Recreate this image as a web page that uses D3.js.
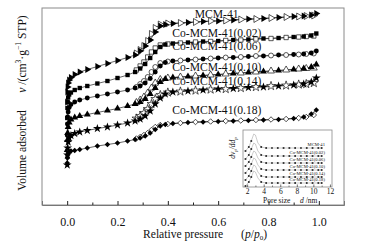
<!DOCTYPE html>
<html><head><meta charset="utf-8">
<script src="https://cdn.jsdelivr.net/npm/d3@7"></script>
<style>
body{margin:0;background:#fff}
svg{display:block}
text{font-family:"Liberation Serif","Times New Roman",serif;fill:#111}
</style>
</head><body>
<svg id="c" width="369" height="241"></svg>
<script>
// ---- data (volume adsorbed, arbitrary offset units) ----
const seriesNames = ["MCM-41","Co-MCM-41(0.02)","Co-MCM-41(0.06)","Co-MCM-41(0.10)","Co-MCM-41(0.14)","Co-MCM-41(0.18)"];
const pAds = [0.0003,0.001,0.002,0.004,0.008,0.015,0.03,0.05,0.08,0.12,0.16,0.2,0.24,0.27,0.29,0.31,0.33,0.35,0.37,0.39,0.42,0.48,0.54,0.6,0.66,0.72,0.78,0.84,0.9,0.94,0.97,0.99];
const pDes = [0.98,0.95,0.92,0.87,0.81,0.75,0.69,0.63,0.57,0.51,0.45,0.40,0.37,0.35,0.335,0.32,0.305,0.29,0.275];

const adsMCM41 = [103,113,118,122,125,127.5,130.5,133,135.5,138.5,141.5,144.5,147.5,150,154,159,165,173,179,180.5,181.5,182.5,183.5,184,185,186,186.5,187.5,188.5,189,190,191.5];
const desMCM41 = [189.5,189,188.5,188,187,186,185.5,184.5,184,183,182,181.5,180.5,177,171,164,159,155,151.5];
const adsCo002 = [87,97,103,107.5,110.5,112.5,115,117,119,121.5,124,127,130,133,136.5,141,147,153,158,160.5,161.5,162.5,163.5,164,165,165.5,166.5,167,168,168.5,169.5,171.5];
const desCo002 = [169,168.5,168,167.5,166.5,166,165,164.5,163.5,163,162,161,160,157,153,148,143,139,135];
const adsCo006 = [70,81,88,93,97.5,100.5,103,105,107,109,111,113,115,117,119,122,126.5,133,139,142.5,144,145,146,147,147.5,148.5,149,150,150.5,151,152,154];
const desCo006 = [151.5,151,150.5,150,149.5,149,148,147.5,146.5,145.5,144.5,143.5,142,138,133,128,124,121,118];
const adsCo010 = [55,65,72,78,82.5,85.5,87.5,89,90.5,92.5,94.5,96.5,99,101,103,106,111,117,123,126,127.5,128.5,129.5,130.5,131.5,132.5,133.5,134.5,135.5,136.5,138,140.5];
const desCo010 = [137,136.5,136,135,134,133,132,131,130,129,128,127,125.5,122,117,112,108,105,102.5];
const adsCo014 = [40,50,57,63,67,69.5,71.5,73,74.5,76.5,78,80,82,84,86,89,94,101,107,111,113,114,115,116,116.5,117.5,118,119,120,121,123,127];
const desCo014 = [122,121,120.5,119.5,119,118,117,116,115.5,114.5,113.5,112.5,110,106,101,96,92,89,86.5];
const adsCo018 = [42,47,50,52,53,54,54.5,55.5,57,59,60.5,62,64,65.5,67,69,72,75.5,79,80.5,81.5,82.5,83,83.5,84,84.5,85,85.5,86.5,88,91,95];
const desCo018 = [90,88,87,86,85.5,85,84.5,84,83.5,83,82,81,80,78,75,72,70,68,66.5];

const xTicks = [0.0,0.2,0.4,0.6,0.8,1.0];
const xMinorTicks = [0.1,0.3,0.5,0.7,0.9];

// inset: pore size distribution
const dInset = [1.8,2.2,2.5,2.8,3.0,3.3,3.7,4.3,5.0,5.7,6.4,7.1,7.8,8.5,9.2,9.9,10.6,11.0];
const psdMCM41 = [36,40,46,53,52,44,40,39,39,39,39,39,39,39,39,39,39,39];
const psdCo002 = [28,32,38,44,43,36,32,31,31,31,31,31,31,31,31,31,31,31];
const psdCo006 = [21,25,30,36,35,29,25,24,24,24,24,24,24,24,24,24,24,24];
const psdCo010 = [14,18,23,29,28,22,18,17,17,17,17,17,17,17,17,17,17,17];
const psdCo014 = [7,11,16,22,21,15,11,10,10,10,10,10,10,10,10,10,10,10];
const psdCo018 = [1,5,10,16,15,9,5,4,4,4,4,4,4,4,4,4,4,4];
const insetTicks = [2,4,6,8,10,12];
const insetMinor = [3,5,7,9,11];

// ---- build ----
const ads = [adsMCM41,adsCo002,adsCo006,adsCo010,adsCo014,adsCo018];
const des = [desMCM41,desCo002,desCo006,desCo010,desCo014,desCo018];
const psd = [psdMCM41,psdCo002,psdCo006,psdCo010,psdCo014,psdCo018];

const svg = d3.select("#c");
const L=42,R=344,T=8,B=205;
const FS = 11.6;
const x = d3.scaleLinear().domain([-0.1,1.1]).range([L,R]);
const y = d3.scaleLinear().domain([0,197]).range([B,T]);

// frame
svg.append("rect").attr("x",L).attr("y",T).attr("width",R-L).attr("height",B-T)
  .attr("fill","none").attr("stroke","#8a8a8a").attr("stroke-width",1);

// bottom axis
const ax = svg.append("g").attr("transform",`translate(0,${B})`)
  .call(d3.axisBottom(x).tickValues(xTicks).tickSize(-4).tickPadding(12.5).tickFormat(d3.format(".1f")));
ax.select(".domain").attr("stroke","#777");
ax.selectAll(".tick line").attr("stroke","#222");
ax.selectAll("text").attr("font-size",12).attr("fill","#111");
const axm = svg.append("g").attr("transform",`translate(0,${B})`)
  .call(d3.axisBottom(x).tickValues(xMinorTicks).tickSize(-2.5).tickFormat(""));
axm.select(".domain").remove();
axm.selectAll(".tick line").attr("stroke","#222");

// symbols
const symTypes = [d3.symbolTriangle,d3.symbolSquare,d3.symbolCircle,d3.symbolTriangle,d3.symbolStar,d3.symbolSquare];
const symSizes = [21,19,19,21,24,15];
const symRot = [90,0,0,0,0,45];

const line = d3.line().x(d=>x(d[0])).y(d=>y(d[1]));

ads.forEach((vals,i)=>{
  const a = pAds.map((p,k)=>[p,vals[k]]);
  const dd = pDes.map((p,k)=>[p,des[i][k]]);
  const g = svg.append("g");
  g.append("path").attr("d",line(a)).attr("fill","none").attr("stroke","#222").attr("stroke-width",0.7);
  g.append("path").attr("d",line(dd)).attr("fill","none").attr("stroke","#222").attr("stroke-width",0.7);
  const sym = d3.symbol().type(symTypes[i]).size(symSizes[i]);
  g.selectAll(".o").data(dd).join("path").attr("class","o")
    .attr("transform",d=>`translate(${x(d[0])},${y(d[1])}) rotate(${symRot[i]})`)
    .attr("d",sym()).attr("fill","#fff").attr("stroke","#111").attr("stroke-width",0.7);
  g.selectAll(".f").data(a).join("path").attr("class","f")
    .attr("transform",d=>`translate(${x(d[0])},${y(d[1])}) rotate(${symRot[i]})`)
    .attr("d",sym()).attr("fill","#000");
});

// series labels
const lab = svg.append("g").attr("font-size",FS);
lab.append("text").attr("x",x(0.507)).attr("y",y(187)).text(seriesNames[0]);
const labBase = [168,155,134,120,91];
labBase.forEach((v,k)=>{
  lab.append("text").attr("x",x(0.772)).attr("y",y(v)).attr("text-anchor","end").text(seriesNames[k+1]);
});

// axis titles
const xt = svg.append("text").attr("x",143).attr("y",237.5).attr("font-size",FS);
xt.append("tspan").text("Relative pressure");
xt.append("tspan").attr("x",241).text("(");
xt.append("tspan").attr("font-style","italic").text("p");
xt.append("tspan").text("/");
xt.append("tspan").attr("font-style","italic").text("p");
xt.append("tspan").attr("font-size",7).attr("dy",2).text("0");
xt.append("tspan").attr("dy",-2).text(")");

const yt = svg.append("text").attr("transform","translate(26,103) rotate(-90)")
  .attr("text-anchor","middle").attr("font-size",FS);
yt.append("tspan").text("Volume adsorbed\u2003\u2002");
yt.append("tspan").attr("font-style","italic").text("v");
yt.append("tspan").text(" /(cm");
yt.append("tspan").attr("font-size",7.5).attr("dy",-5).text("3");
yt.append("tspan").attr("dy",5).text("\u00b7g");
yt.append("tspan").attr("font-size",7.5).attr("dy",-5).text("\u22121");
yt.append("tspan").attr("dy",5).text(" STP)");

// ---- inset ----
const iL=243,iR=332,iT=130,iB=187;
const xi = d3.scaleLinear().domain([1.5,12.25]).range([iL,iR]);
const yi = d3.scaleLinear().domain([0,57]).range([iB,iT]);
svg.append("rect").attr("x",iL).attr("y",iT).attr("width",iR-iL).attr("height",iB-iT)
  .attr("fill","#fff").attr("stroke","#8a8a8a").attr("stroke-width",0.8);
const ia = svg.append("g").attr("transform",`translate(0,${iB})`)
  .call(d3.axisBottom(xi).tickValues(insetTicks).tickSize(-2.5).tickPadding(1.5));
ia.select(".domain").remove();
ia.selectAll(".tick line").attr("stroke","#333").attr("stroke-width",0.7);
ia.selectAll("text").attr("font-size",7.5).attr("fill","#111");
const iam = svg.append("g").attr("transform",`translate(0,${iB})`)
  .call(d3.axisBottom(xi).tickValues(insetMinor).tickSize(-1.5).tickFormat(""));
iam.select(".domain").remove();
iam.selectAll(".tick line").attr("stroke","#333").attr("stroke-width",0.6);

const iline = d3.line().x(d=>xi(d[0])).y(d=>yi(d[1]));
const isym = d3.symbol().type(d3.symbolSquare).size(3);
psd.forEach((vals,i)=>{
  const pts = dInset.map((d,k)=>[d,vals[k]]);
  svg.append("path").attr("d",iline(pts)).attr("fill","none").attr("stroke","#aaa").attr("stroke-width",0.6);
  svg.append("g").selectAll("path").data(pts.filter(d=>d[0]<2.6||d[0]>3.5)).join("path")
    .attr("transform",d=>`translate(${xi(d[0])},${yi(d[1])})`).attr("d",isym()).attr("fill","#222");
  svg.append("text").attr("x",xi(11.4)).attr("y",yi(vals[vals.length-1])-1.8)
    .attr("text-anchor","end").attr("font-size",4.6).text(seriesNames[i]);
});

const ixt = svg.append("text").attr("x",263).attr("y",202.5).attr("font-size",7.5);
ixt.append("tspan").text("Pore size");
ixt.append("tspan").attr("x",300).attr("font-style","italic").text("d");
ixt.append("tspan").text(" /nm");

const iyt = svg.append("text").attr("transform","translate(235,148) rotate(-90)")
  .attr("text-anchor","middle").attr("font-size",7.5).attr("font-style","italic");
iyt.append("tspan").text("dv");
iyt.append("tspan").attr("font-size",5).attr("dy",2).text("p");
iyt.append("tspan").attr("dy",-2).text("/dd");
iyt.append("tspan").attr("font-size",5).attr("dy",2).text("p");
</script>
</body></html>
